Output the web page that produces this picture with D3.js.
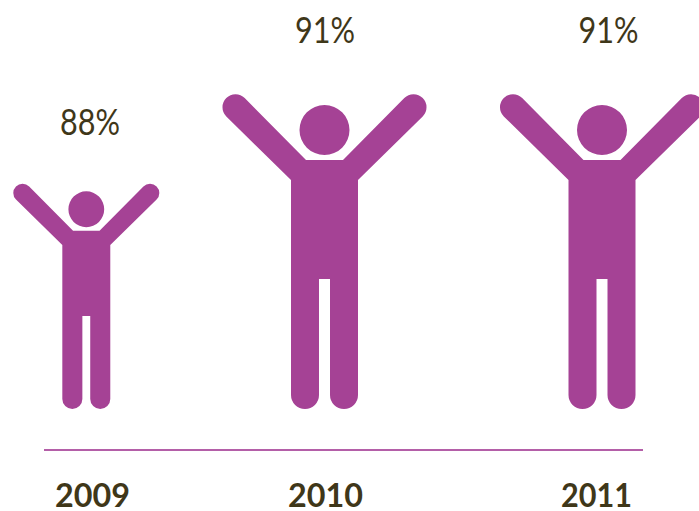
<!DOCTYPE html>
<html><head><meta charset="utf-8">
<script src="https://d3js.org/d3.v7.min.js"></script>
<style>html,body{margin:0;padding:0;background:#fff;overflow:hidden}svg{display:block}</style>
</head><body><svg id="c" width="699" height="511"></svg>
<script>
const years = ["2009", "2010", "2011"];
const shares = [88, 91, 91];
const labels = ["88%", "91%", "91%"];

const purple = "#a54295", ink = "#3f3719";
const svg = d3.select("#c");
const baseline = 409, refHeight = 315;

const figureX = d3.scaleOrdinal().domain(years).range([86.3, 324.5, 602]);
const pctX = d3.scaleOrdinal().domain(years).range([90, 325, 608.5]);
const yearX = d3.scaleOrdinal().domain(years).range([92.5, 325.5, 596.5]);
const figureHeight = d3.scaleLinear().domain([88, 91]).range([225.5, refHeight]);
const pctY = d3.scaleLinear().domain([88, 91]).range([135, 43]);

// Pictogram drawn in a reference box refHeight tall, feet at the origin.
function person() {
  const p = d3.path();
  const legR = 14, hw = 33.5, gap = 5.5, crotch = -130, sh = -249, pit = -229, shIn = 18.5;
  const hx = 89, hy = -301.7, hr = 13, t = hr * Math.SQRT1_2;
  p.moveTo(-gap, crotch); p.lineTo(gap, crotch); p.lineTo(gap, -legR);
  p.arc(gap + legR, -legR, legR, Math.PI, 0, true);
  p.lineTo(hw, pit); p.lineTo(hx + t, hy + t);
  p.arc(hx, hy, hr, Math.PI / 4, -3 * Math.PI / 4, true);
  p.lineTo(shIn, sh); p.lineTo(-shIn, sh); p.lineTo(-hx + t, hy - t);
  p.arc(-hx, hy, hr, -Math.PI / 4, -5 * Math.PI / 4, true);
  p.lineTo(-hw, pit); p.lineTo(-hw, -legR);
  p.arc(-gap - legR, -legR, legR, Math.PI, 0, true);
  p.closePath();
  p.moveTo(25, -279); p.arc(0, -279, 25, 0, 2 * Math.PI);
  return p.toString();
}

const data = years.map((y, i) => ({ year: y, value: shares[i], label: labels[i] }));

svg.selectAll("path.person").data(data).join("path")
  .attr("class", "person").attr("fill", purple)
  .attr("d", person())
  .attr("transform", d => `translate(${figureX(d.year)},${baseline}) scale(${figureHeight(d.value) / refHeight})`);

svg.append("line").attr("x1", 44).attr("x2", 643).attr("y1", 450).attr("y2", 450)
  .attr("stroke", "#b45fa8").attr("stroke-width", 2);

svg.selectAll("text.pct").data(data).join("text")
  .attr("class", "pct").attr("text-anchor", "middle")
  .attr("x", d => pctX(d.year))
  .attr("y", d => pctY(d.value))
  .attr("font-family", "Lato, sans-serif").attr("font-weight", 400).attr("font-size", 36)
  .attr("fill", ink)
  .attr("textLength", 60).attr("lengthAdjust", "spacingAndGlyphs")
  .text(d => d.label);

svg.selectAll("text.yr").data(data).join("text")
  .attr("class", "yr").attr("text-anchor", "middle")
  .attr("x", d => yearX(d.year)).attr("y", 507)
  .attr("font-family", "Lato, sans-serif").attr("font-weight", 700).attr("font-size", 33)
  .attr("fill", ink)
  .attr("textLength", d => d.year === "2011" ? 71 : 75).attr("lengthAdjust", "spacingAndGlyphs")
  .text(d => d.year);
</script></body></html>
